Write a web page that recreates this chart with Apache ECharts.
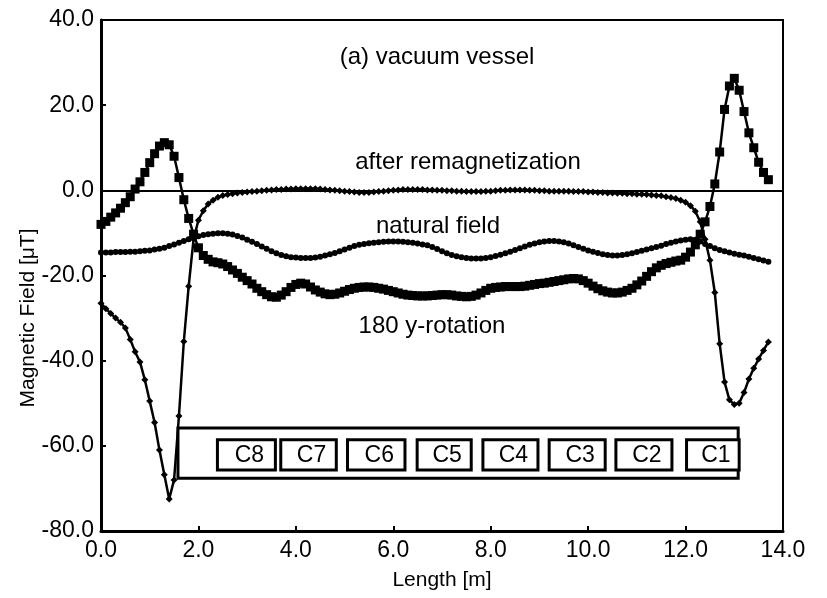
<!DOCTYPE html>
<html>
<head>
<meta charset="utf-8">
<script src="https://cdn.jsdelivr.net/npm/echarts@6/dist/echarts.min.js"></script>
<style>
  html, body { margin: 0; padding: 0; background: #fff; }
  #chart { width: 827px; height: 598px; }
</style>
</head>
<body>
<div id="chart"></div>
<script>
// Field profiles along the vessel, sampled every 0.1 m from 0.0 m
const lengthStart = 0.0;
const lengthStep = 0.1;

// 180 y-rotation [uT]
const rotation180 = [
  -8.0, -7.3, -6.3, -5.3, -4.2, -2.9, -1.5, 0.3, 2.0, 4.2,
  6.5, 8.6, 10.4, 11.2, 10.7, 8.0, 3.0, -2.2, -6.6, -10.3,
  -13.5, -15.3, -16.2, -16.8, -17.0, -17.3, -17.9, -18.7, -19.5, -20.4,
  -21.2, -22.0, -23.0, -23.8, -24.5, -25.0, -25.1, -24.6, -23.8, -22.8,
  -22.1, -21.8, -22.0, -22.7, -23.4, -23.9, -24.3, -24.5, -24.4, -24.1,
  -23.7, -23.3, -23.0, -22.8, -22.7, -22.7, -22.8, -23.0, -23.2, -23.5,
  -23.8, -24.1, -24.4, -24.6, -24.7, -24.8, -24.8, -24.8, -24.7, -24.6,
  -24.5, -24.5, -24.6, -24.8, -24.9, -25.0, -24.9, -24.6, -24.1, -23.5,
  -23.0, -22.8, -22.7, -22.6, -22.6, -22.6, -22.6, -22.5, -22.3, -22.1,
  -21.9, -21.8, -21.6, -21.4, -21.2, -21.0, -20.8, -20.7, -20.8, -21.2,
  -21.8, -22.5, -23.1, -23.6, -23.9, -24.1, -24.1, -23.9, -23.5, -23.0,
  -22.2, -21.3, -20.2, -19.1, -18.2, -17.6, -17.2, -16.9, -16.6, -16.4,
  -15.7, -14.5, -12.8, -10.3, -7.4, -3.8, 1.5, 9.0, 19.0, 24.5,
  26.3, 23.5, 18.5, 13.5, 10.0, 6.6, 4.2, 2.5
];

// after remagnetization [uT]
const afterRemag = [
  -26.5, -27.8, -28.9, -30.0, -31.0, -32.3, -35.0, -37.9, -40.3, -44.5,
  -49.5, -54.5, -61.0, -66.8, -72.5, -68.0, -53.0, -35.5, -22.5, -11.5,
  -7.0, -4.8, -3.2, -2.3, -1.6, -1.2, -1.0, -0.8, -0.6, -0.5,
  -0.4, -0.3, -0.2, -0.1, 0.0, 0.1, 0.2, 0.2, 0.3, 0.3,
  0.4, 0.4, 0.4, 0.4, 0.4, 0.3, 0.2, 0.1, 0.0, -0.1,
  -0.2, -0.3, -0.4, -0.5, -0.5, -0.5, -0.4, -0.3, -0.2, -0.1,
  0.0, 0.1, 0.2, 0.2, 0.2, 0.2, 0.2, 0.1, 0.1, 0.0,
  0.0, -0.1, -0.1, -0.2, -0.2, -0.3, -0.3, -0.3, -0.3, -0.2,
  -0.2, -0.1, 0.0, 0.0, 0.1, 0.1, 0.1, 0.1, 0.0, 0.0,
  -0.1, -0.1, -0.2, -0.2, -0.2, -0.2, -0.2, -0.3, -0.3, -0.3,
  -0.4, -0.4, -0.5, -0.5, -0.6, -0.6, -0.7, -0.7, -0.8, -0.8,
  -0.9, -0.9, -1.0, -1.1, -1.2, -1.3, -1.5, -1.7, -1.9, -2.3,
  -2.8, -3.6, -4.9, -7.4, -11.5, -16.4, -24.0, -36.0, -45.0, -49.2,
  -50.3, -50.0, -47.5, -44.3, -41.8, -39.6, -37.6, -35.6
];

// natural field [uT]
const naturalField = [
  -14.6, -14.6, -14.6, -14.5, -14.5, -14.5, -14.4, -14.4, -14.3, -14.2,
  -14.1, -13.9, -13.7, -13.5, -13.1, -12.7, -12.3, -11.9, -11.5, -11.1,
  -10.8, -10.5, -10.3, -10.2, -10.1, -10.1, -10.2, -10.4, -10.7, -11.1,
  -11.6, -12.1, -12.6, -13.2, -13.7, -14.3, -14.8, -15.2, -15.5, -15.7,
  -15.8, -15.9, -15.9, -15.9, -15.8, -15.6, -15.3, -15.0, -14.7, -14.3,
  -13.9, -13.5, -13.1, -12.8, -12.6, -12.4, -12.3, -12.2, -12.1, -12.0,
  -12.0, -12.0, -12.1, -12.2, -12.3, -12.5, -12.7, -12.9, -13.3, -13.8,
  -14.3, -14.8, -15.2, -15.5, -15.7, -15.9, -16.0, -16.0, -16.0, -15.9,
  -15.7, -15.4, -15.1, -14.8, -14.4, -14.0, -13.6, -13.2, -12.8, -12.5,
  -12.2, -12.0, -11.9, -11.9, -12.0, -12.2, -12.5, -12.9, -13.3, -13.7,
  -14.1, -14.4, -14.7, -15.0, -15.2, -15.3, -15.3, -15.2, -15.0, -14.8,
  -14.5, -14.2, -13.9, -13.6, -13.3, -13.0, -12.6, -12.3, -12.0, -11.8,
  -11.6, -11.5, -11.6, -12.0, -12.6, -13.1, -13.6, -14.0, -14.3, -14.6,
  -14.9, -15.1, -15.3, -15.6, -15.9, -16.2, -16.5, -16.8
];

// Coil layout along the vessel [m]
const coilNames = ['C8', 'C7', 'C6', 'C5', 'C4', 'C3', 'C2', 'C1'];
const coilStart = [2.39, 3.69, 5.06, 6.49, 7.84, 9.20, 10.57, 12.02];
const coilEnd   = [3.58, 4.83, 6.24, 7.60, 8.97, 10.35, 11.72, 13.10];
const vesselSpan = [1.58, 13.08];

// Axis ticks
const xTicks = { min: 0, max: 14, step: 2 };
const yTicks = { min: -80, max: 40, step: 20 };

const FONT = '"Liberation Sans", Arial, sans-serif';

function pairs(values) {
  return values.map((v, i) => [+(lengthStart + i * lengthStep).toFixed(2), v]);
}

// Vertical placement of the coil sketch inside the plot (field units)
const sketchOuter = [-55.8, -67.6];
const sketchInner = [-58.6, -65.7];

const chart = echarts.init(document.getElementById('chart'), null, { renderer: 'canvas' });

const lineSeries = (name, values, symbol, size, z) => ({
  name, type: 'line', data: pairs(values), symbol, symbolSize: size,
  showSymbol: true, z,
  itemStyle: { color: '#000' },
  lineStyle: { color: '#000', width: 2.5 },
  animation: false, silent: true
});

const note = (text, x, y) => ({
  type: 'text', x, y,
  style: { text, align: 'center', verticalAlign: 'middle', fontFamily: FONT, fontSize: 24, fill: '#000' }
});

chart.setOption({
  animation: false,
  backgroundColor: '#fff',
  grid: { left: 101, right: 44, top: 20, bottom: 67, show: true, borderColor: '#000', borderWidth: 2 },
  xAxis: {
    type: 'value', min: xTicks.min, max: xTicks.max, interval: xTicks.step,
    name: 'Length [m]', nameLocation: 'middle', nameGap: 39,
    nameTextStyle: { fontFamily: FONT, fontSize: 21, color: '#000' },
    axisLine: { show: true, onZero: false, lineStyle: { color: '#000', width: 3 } },
    axisTick: { show: true, inside: true, length: 5, lineStyle: { color: '#000', width: 2 } },
    axisLabel: { fontFamily: FONT, fontSize: 23, color: '#000', margin: 8, formatter: v => v.toFixed(1) },
    splitLine: { show: false }
  },
  yAxis: {
    type: 'value', min: yTicks.min, max: yTicks.max, interval: yTicks.step,
    axisLine: { show: true, onZero: false, lineStyle: { color: '#000', width: 3 } },
    axisTick: { show: true, inside: true, length: 5, lineStyle: { color: '#000', width: 2 } },
    axisLabel: { fontFamily: FONT, fontSize: 23, color: '#000', margin: 7, formatter: v => v.toFixed(1) },
    splitLine: { show: false }
  },
  series: [
    {
      // vessel outline with the coil boxes
      type: 'custom', z: 1, silent: true,
      data: [[vesselSpan[0], vesselSpan[1]]],
      renderItem: (params, api) => {
        const p0 = api.coord([api.value(0), sketchOuter[0]]);
        const p1 = api.coord([api.value(1), sketchOuter[1]]);
        return {
          type: 'rect',
          shape: { x: p0[0], y: p0[1], width: p1[0] - p0[0], height: p1[1] - p0[1] },
          style: { fill: '#fff', stroke: '#000', lineWidth: 3 }
        };
      }
    },
    {
      type: 'custom', z: 2, silent: true,
      data: coilNames.map((n, i) => [coilStart[i], coilEnd[i], n]),
      renderItem: (params, api) => {
        const i = params.dataIndex;
        const p0 = api.coord([coilStart[i], sketchInner[0]]);
        const p1 = api.coord([coilEnd[i], sketchInner[1]]);
        return {
          type: 'group',
          children: [
            {
              type: 'rect',
              shape: { x: p0[0], y: p0[1], width: p1[0] - p0[0], height: p1[1] - p0[1] },
              style: { fill: '#fff', stroke: '#000', lineWidth: 3 }
            },
            {
              type: 'text',
              style: {
                text: coilNames[i], x: (p0[0] + p1[0]) / 2 + 3, y: (p0[1] + p1[1]) / 2 + 1,
                align: 'center', verticalAlign: 'middle',
                fontFamily: FONT, fontSize: 23, fill: '#000'
              }
            }
          ]
        };
      }
    },
    Object.assign(lineSeries('after remagnetization', afterRemag, 'diamond', 7, 5), {
      markLine: {
        silent: true, symbol: 'none', animation: false,
        label: { show: false },
        lineStyle: { color: '#000', width: 2, type: 'solid' },
        data: [{ yAxis: 0 }]
      }
    }),
    lineSeries('natural field', naturalField, 'circle', 6, 4),
    lineSeries('180 y-rotation', rotation180, 'rect', 9, 3)
  ],
  graphic: [
    // vertical axis title
    {
      type: 'text', x: 28, y: 318, rotation: Math.PI / 2,
      style: { text: 'Magnetic Field [\u03bcT]', align: 'center', verticalAlign: 'middle', fontFamily: FONT, fontSize: 21, fill: '#000' }
    },
    note('(a) vacuum vessel', 437, 57),
    note('after remagnetization', 468, 162),
    note('natural field', 438, 226),
    note('180 y-rotation', 432, 326)
  ]
});
</script>
</body>
</html>
